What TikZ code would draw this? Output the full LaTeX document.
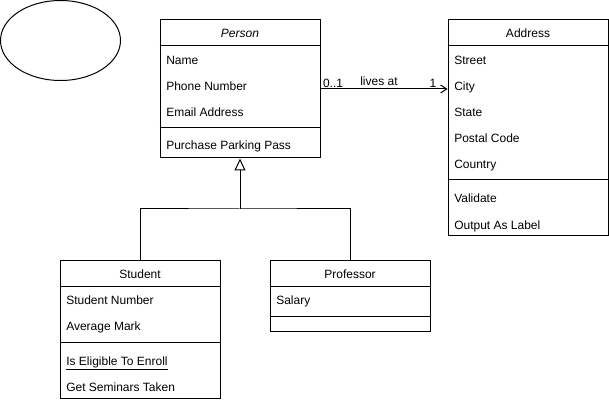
\documentclass[tikz,border=0pt]{standalone}
\usepackage{fontspec}
\setmainfont{Liberation Sans}
\usetikzlibrary{arrows.meta,positioning,shapes.geometric}
\tikzset{
  classbox/.style={draw, line width=0.75pt, minimum width=120pt, inner sep=0pt},
  classname/.style={anchor=base, inner sep=0pt, font=\fontsize{9}{11}\selectfont},
  member/.style={anchor=base west, inner sep=0pt, font=\fontsize{9}{11}\selectfont},
  sepline/.style={line width=0.75pt},
  assoc/.style={line width=0.75pt, -{Straight Barb[length=4.5pt, width=6pt]}},
  inherit/.style={line width=0.75pt, -{Triangle[open, length=9pt, width=8.25pt]}},
  mult/.style={inner sep=0pt, font=\fontsize{9}{11}\selectfont},
}

\begin{document}
\begin{tikzpicture}[x=0.75pt, y=-0.75pt]
\useasboundingbox (0,0) rectangle (609,402);
% Empty ellipse
\node[draw, ellipse, line width=0.75pt, minimum width=90pt, minimum height=60pt] (blank) at (60.5,40.5) {};
% Person
\node[classbox, minimum height=103.5pt] (person) at (240,89) {};
\node[classname] (personname) at (240,38) {\itshape Person};
\draw[sepline] (person.west |- 0,46) -- (person.east |- 0,46);
\draw[sepline] (person.west |- 0,128) -- (person.east |- 0,128);
\foreach \y/\txt [count=\i] in {65/Name, 91/Phone Number, 117/Email Address, 150/Purchase Parking Pass}
  \node[member] (person\i) at (166,\y) {\txt};
% Address
\node[classbox, minimum height=162pt] (address) at (528,128) {};
\node[classname] (addressname) at (528,38) {Address};
\draw[sepline] (address.west |- 0,46) -- (address.east |- 0,46);
\draw[sepline] (address.west |- 0,180) -- (address.east |- 0,180);
\foreach \y/\txt [count=\i] in {65/Street, 91/City, 117/State, 143/Postal Code, 169/Country, 203/Validate, 229/Output As Label}
  \node[member] (address\i) at (454,\y) {\txt};
% Student
\node[classbox, minimum height=103.5pt] (student) at (140,329) {};
\node[classname] (studentname) at (140,278) {Student};
\draw[sepline] (student.west |- 0,286) -- (student.east |- 0,286);
\draw[sepline] (student.west |- 0,342) -- (student.east |- 0,342);
\foreach \y/\txt [count=\i] in {304/Student Number, 330/Average Mark, 365/\underline{Is Eligible To Enroll}, 391/Get Seminars Taken}
  \node[member] (student\i) at (66,\y) {\txt};
% Professor
\node[classbox, minimum height=53.25pt] (professor) at (350,295.5) {};
\node[classname] (professorname) at (350,278) {Professor};
\draw[sepline] (professor.west |- 0,286) -- (professor.east |- 0,286);
\draw[sepline] (professor.west |- 0,316) -- (professor.east |- 0,316);
\node[member] (professor1) at (276,304) {Salary};
% Association
\draw[assoc] (person.east) -- (person.east -| address.west)
  node[mult, pos=0, anchor=base west, xshift=1.5pt, yshift=0.75pt] (multfrom) {0..1}
  node[mult, pos=0.46, anchor=base, yshift=2.5pt] (assocname) {lives at}
  node[mult, pos=1, anchor=base east, xshift=-8pt, yshift=0.75pt] (multto) {1};
% Generalization
\coordinate (split) at (240,209);
\draw[line width=0.75pt] (student.north) |- (split) -| (professor.north);
\draw[inherit] (split) -- (person.south);
\end{tikzpicture}
\end{document}
